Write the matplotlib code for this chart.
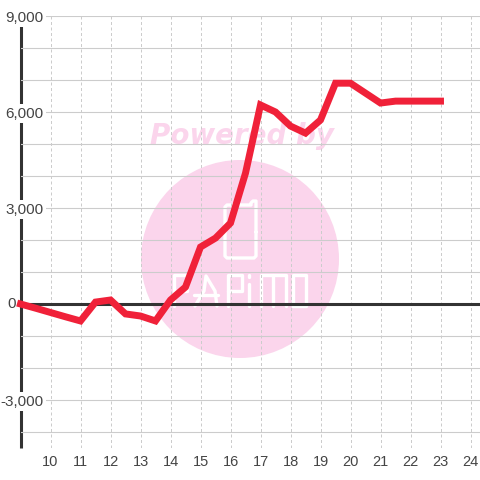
#!/usr/bin/env python3

import matplotlib
matplotlib.use("Agg")
import matplotlib.pyplot as plt
from matplotlib.patches import Circle

hours = [9, 9.5, 10, 10.5, 11, 11.5, 12, 12.5, 13, 13.5, 14, 14.5, 15, 15.5, 16, 16.5,
         17, 17.5, 18, 18.5, 19, 19.5, 20, 20.5, 21, 21.5, 22, 22.5, 23]
values = [0, -130, -265, -400, -530, 60, 125, -310, -375, -530, 125, 530, 1780, 2060, 2530, 4090,
          6220, 6000, 5560, 5340, 5750, 6900, 6900, 6590, 6280, 6340, 6340, 6340, 6340]
x_ticks = list(range(10, 25))
y_ticks = list(range(-4000, 10000, 1000))
y_labels = ["-3,000" if v == -3000 else "3,000" if v == 3000
            else "6,000" if v == 6000 else "9,000" if v == 9000 else "" for v in y_ticks]

GRID = "#cccccc"
DARK = "#333333"
RED = "#f02139"
PINK = "#fbd5ec"

plt.rcParams["font.family"] = ["Liberation Sans", "DejaVu Sans"]
fig = plt.figure(figsize=(4.8, 4.8), dpi=100, facecolor="white")

# watermark sits in its own pixel-coordinate axes under the chart
wm = fig.add_axes([0, 0, 1, 1], zorder=0)
wm.set_xlim(0, 480)
wm.set_ylim(480, 0)
wm.axis("off")
wm.add_patch(Circle((240, 259), 99, color=PINK, lw=0))
wm.text(242, 144, "Powered by", color=PINK, fontsize=20, fontweight="bold", fontstyle="italic",
        family="DejaVu Sans", ha="center", va="baseline")

logo = [
    ([256, 256, 253, 251, 251, 227, 225, 225, 227, 254, 256, 256],
     [232, 201, 201, 203, 205, 205, 207, 256, 258, 258, 256, 232]),
    ([174, 174, 187, 187, 174], [306, 275, 275, 291, 291]),
    ([195, 204, 206, 206, 215, 217], [306, 291, 276, 276, 291, 306]),
    ([194, 218], [295, 295]),
    ([228, 228, 242, 242, 228], [306, 275, 275, 291, 291]),
    ([249, 249], [306, 284]),
    ([249, 249], [277, 275]),
    ([261, 261, 273, 273], [306, 275, 275, 306]),
    ([273, 286, 286], [275, 275, 306]),
    ([293, 293, 306, 306, 293], [306, 275, 275, 306, 306]),
]
for xs, ys in logo:
    wm.plot(xs, ys, color="white", lw=2.4, solid_capstyle="round", solid_joinstyle="round")

ax = fig.add_axes([20.5 / 480, 32 / 480, 459.5 / 480, 432 / 480], zorder=1)
ax.patch.set_alpha(0)
ax.set_xlim(9, 9 + 459.5 / 30)
ax.set_ylim(-4500, 9000)
ax.set_axisbelow(False)

for name in ("top", "right", "bottom"):
    ax.spines[name].set_visible(False)
ax.spines["left"].set_linewidth(2.2)
ax.spines["left"].set_color(DARK)
ax.spines["left"].set_capstyle("butt")

ax.set_xticks(x_ticks)
ax.set_yticks(y_ticks)
ax.set_yticklabels(y_labels)
ax.grid(axis="y", color=GRID, lw=0.8)
ax.grid(axis="x", color=GRID, lw=0.72, linestyle=(0, (3, 2.5)))
ax.tick_params(axis="both", length=0, labelcolor="#444444")
ax.tick_params(axis="x", pad=5, labelsize=10.5)
ax.tick_params(axis="y", pad=-16.6, labelsize=11)
for lab in ax.get_yticklabels():
    lab.set_bbox(dict(facecolor="white", edgecolor="none", pad=1.5))

# zero line is the gridline at 0 made heavy
ax.yaxis.get_major_ticks()[y_ticks.index(0)].gridline.set(color=DARK, linewidth=2.2)
# the "0" label sits left of the axis, unlike the others
ax.text(9 - 4.5 / 30, 0, "0", color="#444444", fontsize=11, ha="right", va="center", clip_on=False)

ax.plot(hours, values, color=RED, lw=5, zorder=5, clip_on=False,
        solid_capstyle="projecting", solid_joinstyle="miter")

fig.savefig("out.png", dpi=100)
